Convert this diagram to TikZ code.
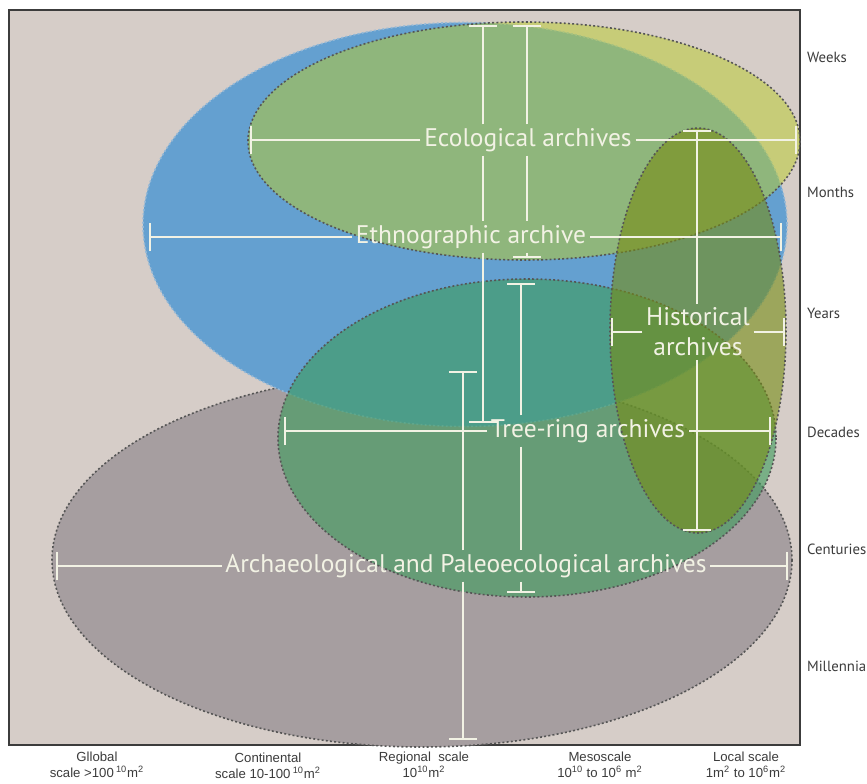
\documentclass[tikz,border=0pt]{standalone}
\usepackage{fontspec}
\setmainfont{PT Sans}
\newfontfamily\axisfont{Liberation Sans}
\usetikzlibrary{arrows.meta}

\definecolor{bgcol}{RGB}{214,205,200}
\definecolor{ethblue}{RGB}{100,160,208}
\definecolor{ethedge}{RGB}{150,185,215}
\definecolor{archgrey}{RGB}{166,158,160}
\definecolor{treegreen}{RGB}{60,155,90}
\definecolor{ecoyellow}{RGB}{186,204,42}
\definecolor{histolive}{RGB}{118,140,20}
\definecolor{labelcol}{RGB}{242,242,228}
\definecolor{edgecol}{RGB}{85,85,85}
\definecolor{axiscol}{RGB}{60,60,60}

\tikzset{
  region/.style={draw=edgecol, line width=0.9pt, dash pattern=on 1.1pt off 1.3pt},
  archlabel/.style={text=labelcol, font=\fontsize{14.5}{17}\selectfont, inner sep=2pt},
  bar/.style={draw=labelcol, line width=1.1pt, -{Bar[width=16pt]}},
  seg/.style={draw=labelcol, line width=1.1pt},
  timelabel/.style={text=axiscol, anchor=west, inner sep=1pt, font=\fontsize{8.4}{10}\selectfont},
  scalelabel/.style={text=axiscol, align=center, font=\axisfont\fontsize{7.5}{9.3}\selectfont}
}

\begin{document}
\begin{tikzpicture}[x=0.02cm, y=-0.02cm]
\useasboundingbox (0,0) rectangle (867,784);
\fill[white] (0,0) rectangle (867,784);
\draw[axiscol, line width=1pt, fill=bgcol] (9,10) rectangle (800,745);

\fill[archgrey] (422,560) ellipse [x radius=370, y radius=187];
\draw[region] (422,560) ellipse [x radius=370, y radius=187];
\fill[ethblue] (465,224.5) ellipse [x radius=322, y radius=202];
\draw[region, draw=ethedge] (465,224.5) ellipse [x radius=322, y radius=202];
\fill[treegreen, opacity=0.6] (527,438) ellipse [x radius=249, y radius=159];
\draw[region] (527,438) ellipse [x radius=249, y radius=159];
\fill[ecoyellow, opacity=0.5] (524,141) ellipse [x radius=276, y radius=119];
\draw[region] (524,141) ellipse [x radius=276, y radius=119];
\fill[histolive, opacity=0.6] (698,330.5) ellipse [x radius=88, y radius=202.5];
\draw[region] (698,330.5) ellipse [x radius=88, y radius=202.5];

\coordinate (ethT) at (483,25);  \coordinate (ethB) at (483,423);
\coordinate (ethL) at (149,237); \coordinate (ethR) at (782,237);
\coordinate (ecoT) at (527,25);  \coordinate (ecoB) at (527,258);
\coordinate (ecoL) at (250,140); \coordinate (ecoR) at (797,140);
\coordinate (histT) at (697,130); \coordinate (histB) at (697,531);
\coordinate (histL) at (611,332); \coordinate (histR) at (785,332);
\coordinate (treeT) at (521,283); \coordinate (treeB) at (521,593);
\coordinate (treeL) at (284,431); \coordinate (treeR) at (771,431);
\coordinate (archT) at (463,371); \coordinate (archB) at (463,740);
\coordinate (archL) at (56,566);  \coordinate (archR) at (788,566);

\node[archlabel] (eco) at (528,140) {Ecological archives};
\node[archlabel] (eth) at (471,237) {Ethnographic archive};
\node[archlabel] (tree) at (588,431) {Tree-ring archives};
\node[archlabel] (arch) at (466,566) {Archaeological and Paleoecological archives};
\node[archlabel, align=center] (hist) at (698,332) {Historical\\archives};

\draw[bar] (eco.west) -- (ecoL);
\draw[bar] (eco.east) -- (ecoR);
\draw[bar] (eco.north -| ecoT) -- (ecoT);
\draw[seg] (eco.south -| ecoT) -- (eth.north -| ecoT);
\draw[bar] (eth.south -| ecoT) -- (ecoB);

\draw[bar] (eth.west) -- (ethL);
\draw[bar] (eth.east) -- (ethR);
\draw[bar] (eco.north -| ethT) -- (ethT);
\draw[seg] (eco.south -| ethT) -- (eth.north -| ethT);
\draw[bar] (eth.south -| ethT) -- (ethB);

\draw[bar] (tree.west) -- (treeL);
\draw[bar] (tree.east) -- (treeR);
\draw[bar] (tree.north -| treeT) -- (treeT);
\draw[seg] (tree.south -| treeT) -- (arch.north -| treeT);
\draw[bar] (arch.south -| treeT) -- (treeB);

\draw[bar] (arch.west) -- (archL);
\draw[bar] (arch.east) -- (archR);
\draw[bar] (arch.north -| archT) -- (archT);
\draw[bar] (arch.south -| archT) -- (archB);

\draw[bar] (hist.west |- histL) -- (histL);
\draw[bar] (hist.east |- histR) -- (histR);
\draw[bar] (hist.north -| histT) -- (histT);
\draw[bar] (hist.south -| histT) -- (histB);

\node[timelabel] (weeks) at (805,57) {Weeks};
\node[timelabel] (months) at (805,192) {Months};
\node[timelabel] (years) at (805,313) {Years};
\node[timelabel] (decades) at (805,432) {Decades};
\node[timelabel] (centuries) at (805,549) {Centuries};
\node[timelabel] (millennia) at (805,666) {Millennia};

\node[scalelabel] (global) at (97,765) {Gllobal\\scale >100\,\textsuperscript{10}m\textsuperscript{2}};
\node[scalelabel] (continental) at (268,766) {Continental\\scale 10-100\,\textsuperscript{10}m\textsuperscript{2}};
\node[scalelabel] (regional) at (424,765) {Regional\ \ scale\\10\textsuperscript{10}m\textsuperscript{2}};
\node[scalelabel] (meso) at (600,765) {Mesoscale\\10\textsuperscript{10} to 10\textsuperscript{6} m\textsuperscript{2}};
\node[scalelabel] (local) at (746,765) {Local scale\\1m\textsuperscript{2} to 10\textsuperscript{6}m\textsuperscript{2}};
\end{tikzpicture}
\end{document}
